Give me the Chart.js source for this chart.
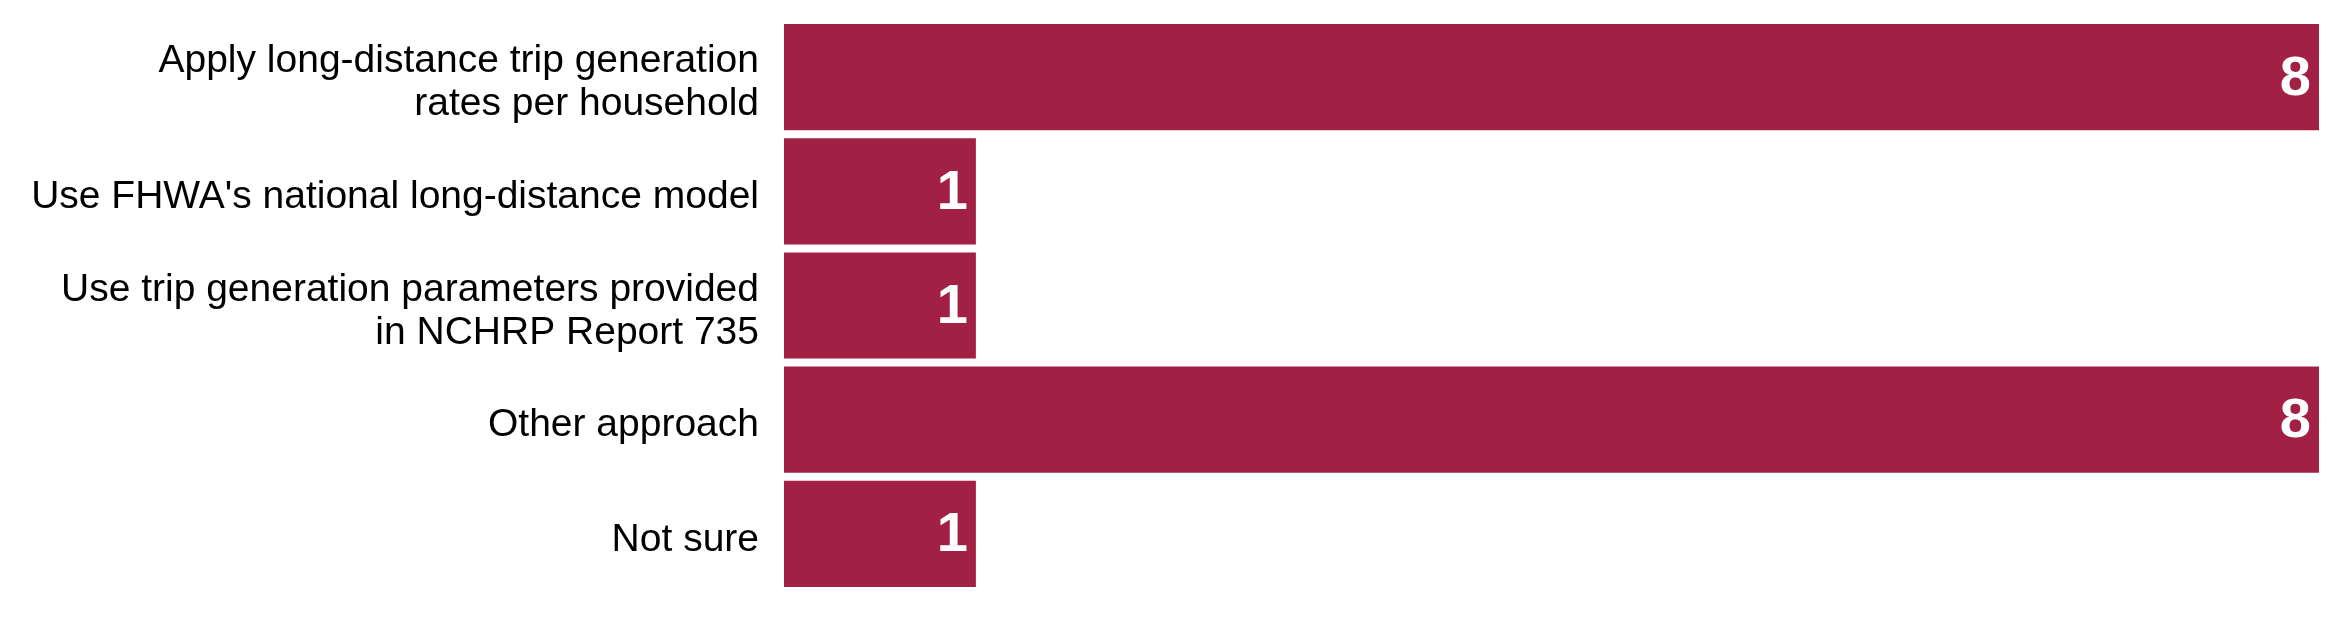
<!DOCTYPE html>
<html>
<head>
<meta charset="utf-8">
<script src="https://cdn.jsdelivr.net/npm/chart.js@4"></script>
<style>
  html, body { margin: 0; padding: 0; background: #fff; }
  #wrap { width: 2343px; height: 624px; position: relative; }
</style>
</head>
<body>
<div id="wrap"><canvas id="myChart"></canvas></div>
<script>
// categorias (etiquetas de varias lineas) y valores
const categorias = [
    ['Apply long-distance trip generation', 'rates per household'],
    "Use FHWA's national long-distance model",
    ['Use trip generation parameters provided', 'in NCHRP Report 735'],
    'Other approach',
    'Not sure'
];
const valores = [8, 1, 1, 8, 1];
const ejeMin = 0;
const ejeMax = 8;

const colorBarra = '#A12043';
const fuente = '"Liberation Sans", Arial, sans-serif';

// dibuja el numero blanco dentro del extremo de cada barra
const etiquetasValor = {
    id: 'etiquetasValor',
    afterDatasetsDraw(chart) {
        const ctx = chart.ctx;
        const meta = chart.getDatasetMeta(0);
        ctx.save();
        ctx.fillStyle = '#ffffff';
        ctx.font = 'bold 56px ' + fuente;
        ctx.textAlign = 'right';
        ctx.textBaseline = 'middle';
        meta.data.forEach((bar, i) => {
            ctx.fillText(String(valores[i]), bar.x - 8, bar.y + 2);
        });
        ctx.restore();
    }
};

const ctx = document.getElementById('myChart').getContext('2d');
const myChart = new Chart(ctx, {
    type: 'bar',
    data: {
        labels: categorias,
        datasets: [{
            data: valores,
            backgroundColor: colorBarra,
            borderWidth: 0,
            barPercentage: 0.93,
            categoryPercentage: 1
        }]
    },
    options: {
        indexAxis: 'y',
        responsive: true,
        maintainAspectRatio: false,
        animation: false,
        layout: { padding: { top: 20, bottom: 33, left: 0, right: 24 } },
        plugins: {
            legend: { display: false },
            tooltip: { enabled: false }
        },
        scales: {
            x: {
                display: false,
                min: ejeMin,
                max: ejeMax
            },
            y: {
                grid: { display: false, drawTicks: false },
                border: { display: false },
                ticks: {
                    color: '#000000',
                    padding: 25,
                    labelOffset: 6,
                    font: { family: fuente, size: 39, lineHeight: 1.1 }
                },
                afterFit(scale) {
                    scale.width = 784;
                    scale.paddingTop = 0;
                    scale.paddingBottom = 0;
                }
            }
        }
    },
    plugins: [etiquetasValor]
});
</script>
</body>
</html>
